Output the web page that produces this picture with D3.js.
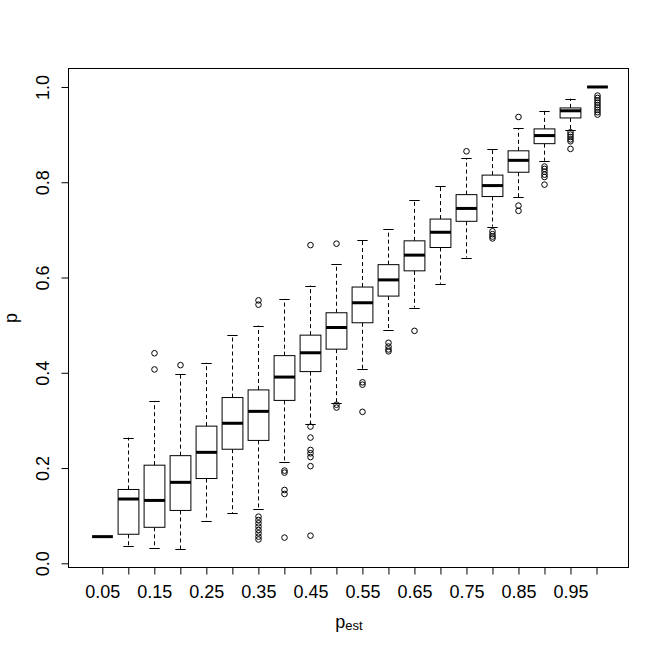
<!DOCTYPE html>
<html>
<head>
<meta charset="utf-8">
<script src="https://cdn.jsdelivr.net/npm/d3@7"></script>
<style>
  html, body { margin: 0; padding: 0; background: #fff; }
  svg { display: block; font-family: "Liberation Sans", Arial, Helvetica, sans-serif; }
</style>
</head>
<body>
<div id="chart"></div>
<script>
// ---- data ----
const categories = ["0.05","0.1","0.15","0.2","0.25","0.3","0.35","0.4","0.45","0.5",
                    "0.55","0.6","0.65","0.7","0.75","0.8","0.85","0.9","0.95","1"];
const xTickLabels = ["0.05","","0.15","","0.25","","0.35","","0.45","",
                     "0.55","","0.65","","0.75","","0.85","","0.95",""];
const whiskerLow  = [0.056,0.037,0.033,0.030,0.0895,0.105,0.114,0.212,0.2926,0.336,
                     0.4075,0.4895,0.537,0.587,0.642,0.707,0.768,0.845,0.909,1.0];
const q1          = [0.056,0.061,0.0756,0.111,0.178,0.2395,0.258,0.342,0.4025,0.4496,
                     0.505,0.561,0.614,0.663,0.718,0.770,0.821,0.881,0.935,1.0];
const medians     = [0.056,0.135,0.132,0.170,0.233,0.294,0.319,0.391,0.442,0.495,
                     0.547,0.595,0.647,0.695,0.745,0.793,0.846,0.898,0.950,1.0];
const q3          = [0.056,0.155,0.206,0.226,0.288,0.348,0.364,0.436,0.479,0.526,
                     0.580,0.627,0.677,0.7227,0.774,0.815,0.866,0.912,0.956,1.0];
const whiskerHigh = [0.056,0.264,0.341,0.397,0.421,0.480,0.499,0.555,0.583,0.629,
                     0.679,0.702,0.763,0.793,0.851,0.869,0.913,0.950,0.9755,1.0];
const outliers = [
  [],
  [],
  [0.441,0.407],
  [0.416],
  [],
  [],
  [0.552,0.543,0.098,0.091,0.084,0.077,0.070,0.063,0.056,0.050],
  [0.1946,0.1904,0.154,0.1456,0.054],
  [0.668,0.287,0.264,0.238,0.231,0.223,0.204,0.058],
  [0.671,0.333,0.327],
  [0.380,0.375,0.318],
  [0.463,0.455,0.449,0.445],
  [0.488],
  [],
  [0.865],
  [0.697,0.691,0.686,0.682],
  [0.937,0.751,0.740],
  [0.833,0.828,0.822,0.816,0.811,0.795],
  [0.905,0.900,0.895,0.890,0.886,0.870],
  [0.982,0.977,0.972,0.967,0.962,0.957,0.952,0.947,0.942]
];
const yTicks = [0.0, 0.2, 0.4, 0.6, 0.8, 1.0];

// ---- layout ----
const W = 664, H = 653;
const plot = { left: 68.5, right: 628.5, top: 68.5, bottom: 567.5 };

const svg = d3.select("#chart").append("svg").attr("width", W).attr("height", H);

const x = d3.scaleLinear().domain([-0.3, 21.23]).range([plot.left, plot.right]);
const y = d3.scaleLinear().domain([-0.0088, 1.0388]).range([plot.bottom, plot.top]);
const unit = x(1) - x(0);
const boxW = 0.8 * unit;
const stapleW = 0.4 * unit;

const idx = d3.range(categories.length);
const pos = i => x(i + 1);

const g = svg.append("g");
idx.forEach(i => {
  const cx = Math.round(pos(i)) + 0.5;
  // whiskers (dashed)
  g.append("line").attr("x1", cx).attr("x2", cx)
    .attr("y1", y(q3[i])).attr("y2", y(whiskerHigh[i]))
    .attr("stroke", "#000").attr("stroke-width", 1).attr("stroke-dasharray", "4,3");
  g.append("line").attr("x1", cx).attr("x2", cx)
    .attr("y1", y(q1[i])).attr("y2", y(whiskerLow[i]))
    .attr("stroke", "#000").attr("stroke-width", 1).attr("stroke-dasharray", "4,3");
  // staples
  [whiskerHigh[i], whiskerLow[i]].forEach(v => {
    g.append("line").attr("x1", cx - stapleW / 2).attr("x2", cx + stapleW / 2)
      .attr("y1", Math.round(y(v)) + 0.5).attr("y2", Math.round(y(v)) + 0.5)
      .attr("stroke", "#000").attr("stroke-width", 1);
  });
  // box
  g.append("rect")
    .attr("x", cx - boxW / 2).attr("width", boxW)
    .attr("y", y(q3[i])).attr("height", Math.max(0, y(q1[i]) - y(q3[i])))
    .attr("fill", "#fff").attr("stroke", "#000").attr("stroke-width", 1);
  // median
  g.append("line").attr("x1", cx - boxW / 2).attr("x2", cx + boxW / 2)
    .attr("y1", y(medians[i])).attr("y2", y(medians[i]))
    .attr("stroke", "#000").attr("stroke-width", 3);
  // outliers
  g.selectAll(null).data(outliers[i]).enter().append("circle")
    .attr("cx", cx).attr("cy", d => y(d)).attr("r", 2.8)
    .attr("fill", "none").attr("stroke", "#000").attr("stroke-width", 1);
});

// frame
svg.append("rect")
  .attr("x", plot.left).attr("y", plot.top)
  .attr("width", plot.right - plot.left).attr("height", plot.bottom - plot.top)
  .attr("fill", "none").attr("stroke", "#000").attr("stroke-width", 1);

// x axis
const xAxis = d3.axisBottom(x)
  .tickValues(idx.map(i => i + 1))
  .tickFormat((d, k) => xTickLabels[k])
  .tickSizeInner(7).tickSizeOuter(0).tickPadding(11);
const gx = svg.append("g").attr("transform", `translate(0,${plot.bottom})`).call(xAxis);
gx.select(".domain").remove();
gx.selectAll("line").attr("stroke", "#000");
gx.selectAll("text").attr("font-size", 18).attr("fill", "#000")
  .attr("font-family", "'Liberation Sans', Arial, sans-serif");

// y axis
const yAxis = d3.axisLeft(y).tickValues(yTicks).tickFormat(d3.format(".1f"))
  .tickSizeInner(7).tickSizeOuter(0);
const gy = svg.append("g").attr("transform", `translate(${plot.left},0)`).call(yAxis);
gy.select(".domain").remove();
gy.selectAll("line").attr("stroke", "#000");
gy.selectAll("text").remove();
gy.selectAll(".tick").append("text")
  .attr("transform", "translate(-19.5,0) rotate(-90)")
  .attr("text-anchor", "middle")
  .attr("font-size", 18).attr("fill", "#000")
  .attr("font-family", "'Liberation Sans', Arial, sans-serif")
  .text(d => d3.format(".1f")(d));

// axis titles
const xt = svg.append("text")
  .attr("x", (plot.left + plot.right) / 2 + 0.5).attr("y", 627.5)
  .attr("text-anchor", "middle").attr("font-size", 18).attr("fill", "#000");
xt.append("tspan").text("p");
xt.append("tspan").attr("font-size", 13).attr("dy", 2.5).text("est");

svg.append("text")
  .attr("transform", `translate(17,${(plot.top + plot.bottom) / 2}) rotate(-90)`)
  .attr("text-anchor", "middle").attr("font-size", 18).attr("fill", "#000")
  .text("p");
</script>
</body>
</html>
